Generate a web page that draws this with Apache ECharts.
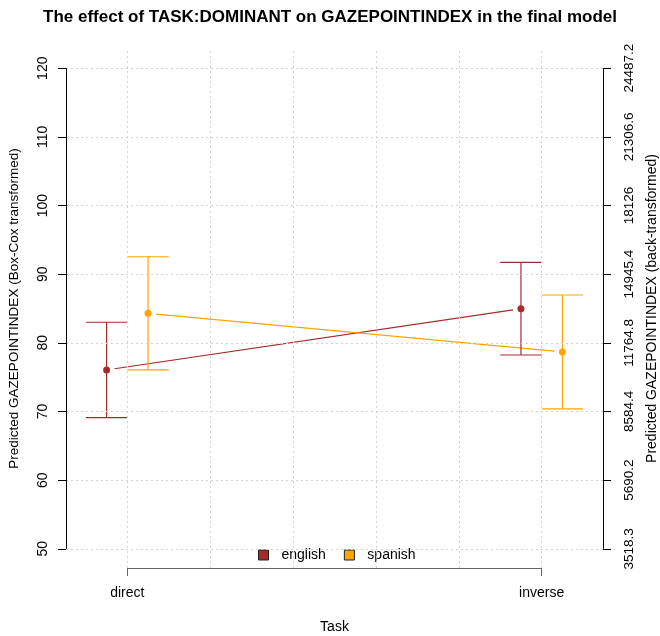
<!DOCTYPE html>
<html>
<head>
<meta charset="utf-8">
<script src="https://cdn.jsdelivr.net/npm/echarts@6/dist/echarts.min.js"></script>
<style>html,body{margin:0;padding:0;background:#fff}#c{width:660px;height:636px}</style>
</head>
<body>
<div id="c"></div>
<script>
// ---- data ----
const categories = ['direct', 'inverse'];
const groups = ['english', 'spanish'];
const englishFit = [76.05, 84.97];
const englishLower = [69.1, 78.23];
const englishUpper = [83.0, 91.72];
const spanishFit = [84.3, 78.67];
const spanishLower = [76.05, 70.38];
const spanishUpper = [92.54, 86.97];
const leftTicks = [50, 60, 70, 80, 90, 100, 110, 120];
const rightTickLabels = ['3518.3', '5690.2', '8584.4', '11764.8', '14945.4', '18126', '21306.6', '24487.2'];
const xGridValues = [1, 1.2, 1.4, 1.6, 1.8, 2.0];

const colors = { english: '#a52a2a', spanish: '#ffa500' };
const dodge = 0.05;
const xMin = 0.852, xMax = 2.148;
const yMin = 47.2, yMax = 122.8;
const FONT = 'Liberation Sans, Arial, sans-serif';

const fits = { english: englishFit, spanish: spanishFit };
const lowers = { english: englishLower, spanish: spanishLower };
const uppers = { english: englishUpper, spanish: spanishUpper };
const offs = { english: -dodge, spanish: dodge };

const series = [];
// grid lines & axis lines
series.push({
  type: 'scatter', data: [], silent: true, z: 0,
  markLine: {
    silent: true, symbol: 'none', animation: false,
    label: { show: false },
    lineStyle: { color: '#d3d3d3', type: [2, 3], width: 1 },
    data: leftTicks.map(v => ({ yAxis: v }))
      .concat(xGridValues.map(v => ({ xAxis: v })))
      .concat([
        [{ coord: [xMin, leftTicks[0]], lineStyle: { color: '#000', type: 'solid' } }, { coord: [xMin, leftTicks[leftTicks.length - 1]] }],
        [{ coord: [xMax, leftTicks[0]], lineStyle: { color: '#000', type: 'solid' } }, { coord: [xMax, leftTicks[leftTicks.length - 1]] }],
        [{ coord: [1, yMin], lineStyle: { color: '#666', type: 'solid' } }, { coord: [categories.length, yMin] }]
      ])
  }
});

groups.forEach(g => {
  series.push({
    name: g, type: 'scatter', z: 5,
    symbolSize: 7,
    itemStyle: { color: colors[g], opacity: 1 },
    data: categories.map((c, i) => [i + 1 + offs[g], fits[g][i]])
  });
});

groups.forEach(g => {
  // error bars
  series.push({
    name: g, type: 'custom', z: 3, silent: true,
    itemStyle: { color: colors[g] },
    data: categories.map((c, i) => [i + 1 + offs[g], lowers[g][i], uppers[g][i]]),
    renderItem: function (params, api) {
      const x = api.value(0), lo = api.value(1), hi = api.value(2);
      const pLo = api.coord([x, lo]), pHi = api.coord([x, hi]);
      const cL1 = api.coord([x - dodge, lo]), cR1 = api.coord([x + dodge, lo]);
      const cL2 = api.coord([x - dodge, hi]), cR2 = api.coord([x + dodge, hi]);
      const st = { stroke: colors[g], lineWidth: 1.2, fill: null };
      return {
        type: 'group', children: [
          { type: 'line', shape: { x1: pLo[0], y1: pLo[1], x2: pHi[0], y2: pHi[1] }, style: st },
          { type: 'line', shape: { x1: cL1[0], y1: cL1[1], x2: cR1[0], y2: cR1[1] }, style: st },
          { type: 'line', shape: { x1: cL2[0], y1: cL2[1], x2: cR2[0], y2: cR2[1] }, style: st }
        ]
      };
    }
  });
  // connecting line with gaps near points
  series.push({
    name: g, type: 'custom', z: 2, silent: true,
    itemStyle: { color: colors[g] },
    data: [[1 + offs[g], fits[g][0], 2 + offs[g], fits[g][1]]],
    renderItem: function (params, api) {
      const a = api.coord([api.value(0), api.value(1)]);
      const b = api.coord([api.value(2), api.value(3)]);
      const dx = b[0] - a[0], dy = b[1] - a[1];
      const len = Math.sqrt(dx * dx + dy * dy);
      const gap = 8;
      const ux = dx / len, uy = dy / len;
      return {
        type: 'line',
        shape: { x1: a[0] + ux * gap, y1: a[1] + uy * gap, x2: b[0] - ux * gap, y2: b[1] - uy * gap },
        style: { stroke: colors[g], lineWidth: 1.2 }
      };
    }
  });
});

const chart = echarts.init(document.getElementById('c'), null, { renderer: 'canvas' });
chart.setOption({
  animation: false,
  backgroundColor: '#fff',
  textStyle: { fontFamily: FONT },
  title: {
    text: 'The effect of TASK:DOMINANT on GAZEPOINTINDEX in the final model',
    left: 'center', top: 4,
    textStyle: { fontFamily: FONT, fontWeight: 'bold', fontSize: 17, color: '#000' }
  },
  legend: {
    data: groups,
    left: 253, top: 543,
    icon: 'rect', itemWidth: 10, itemHeight: 10, itemGap: 18,
    itemStyle: { borderColor: '#222', borderWidth: 1, opacity: 1 },
    textStyle: { fontFamily: FONT, fontSize: 14, color: '#000', padding: [0, 0, 0, 8] }
  },
  grid: { left: 66, right: 57, top: 49, bottom: 68, containLabel: false, outerBoundsMode: 'none' },
  xAxis: {
    type: 'value', min: xMin, max: xMax,
    axisLine: { show: false },
    splitLine: { show: false },
    axisTick: { show: true, customValues: [1, 2], length: 8, lineStyle: { color: '#666' } },
    axisLabel: {
      customValues: [1, 2], margin: 18,
      formatter: v => categories[Math.round(v) - 1],
      fontFamily: FONT, fontSize: 14, color: '#000'
    },
    name: 'Task', nameLocation: 'middle', nameGap: 52,
    nameTextStyle: { fontFamily: FONT, fontSize: 14, color: '#000' }
  },
  yAxis: [
    {
      type: 'value', min: yMin, max: yMax, position: 'left',
      axisLine: { show: false },
      splitLine: { show: false },
      axisTick: { show: true, customValues: leftTicks, length: 8, lineStyle: { color: '#000' } },
      axisLabel: {
        customValues: leftTicks, rotate: 90, margin: 16,
        fontFamily: FONT, fontSize: 14, color: '#000'
      },
      name: 'Predicted GAZEPOINTINDEX (Box-Cox transformed)',
      nameLocation: 'middle', nameRotate: 90, nameGap: 45,
      nameTextStyle: { fontFamily: FONT, fontSize: 13.5, color: '#000' }
    },
    {
      type: 'value', min: yMin, max: yMax, position: 'right',
      axisLine: { show: false },
      splitLine: { show: false },
      axisTick: { show: true, customValues: leftTicks, length: 8, lineStyle: { color: '#000' } },
      axisLabel: {
        customValues: leftTicks, rotate: 90, margin: 19,
        formatter: v => rightTickLabels[leftTicks.indexOf(Math.round(v))],
        fontFamily: FONT, fontSize: 13.5, color: '#000'
      },
      name: 'Predicted GAZEPOINTINDEX (back-transformed)',
      nameLocation: 'middle', nameRotate: 90, nameGap: 42,
      nameTextStyle: { fontFamily: FONT, fontSize: 14, color: '#000' }
    }
  ],
  series: series
});
</script>
</body>
</html>
